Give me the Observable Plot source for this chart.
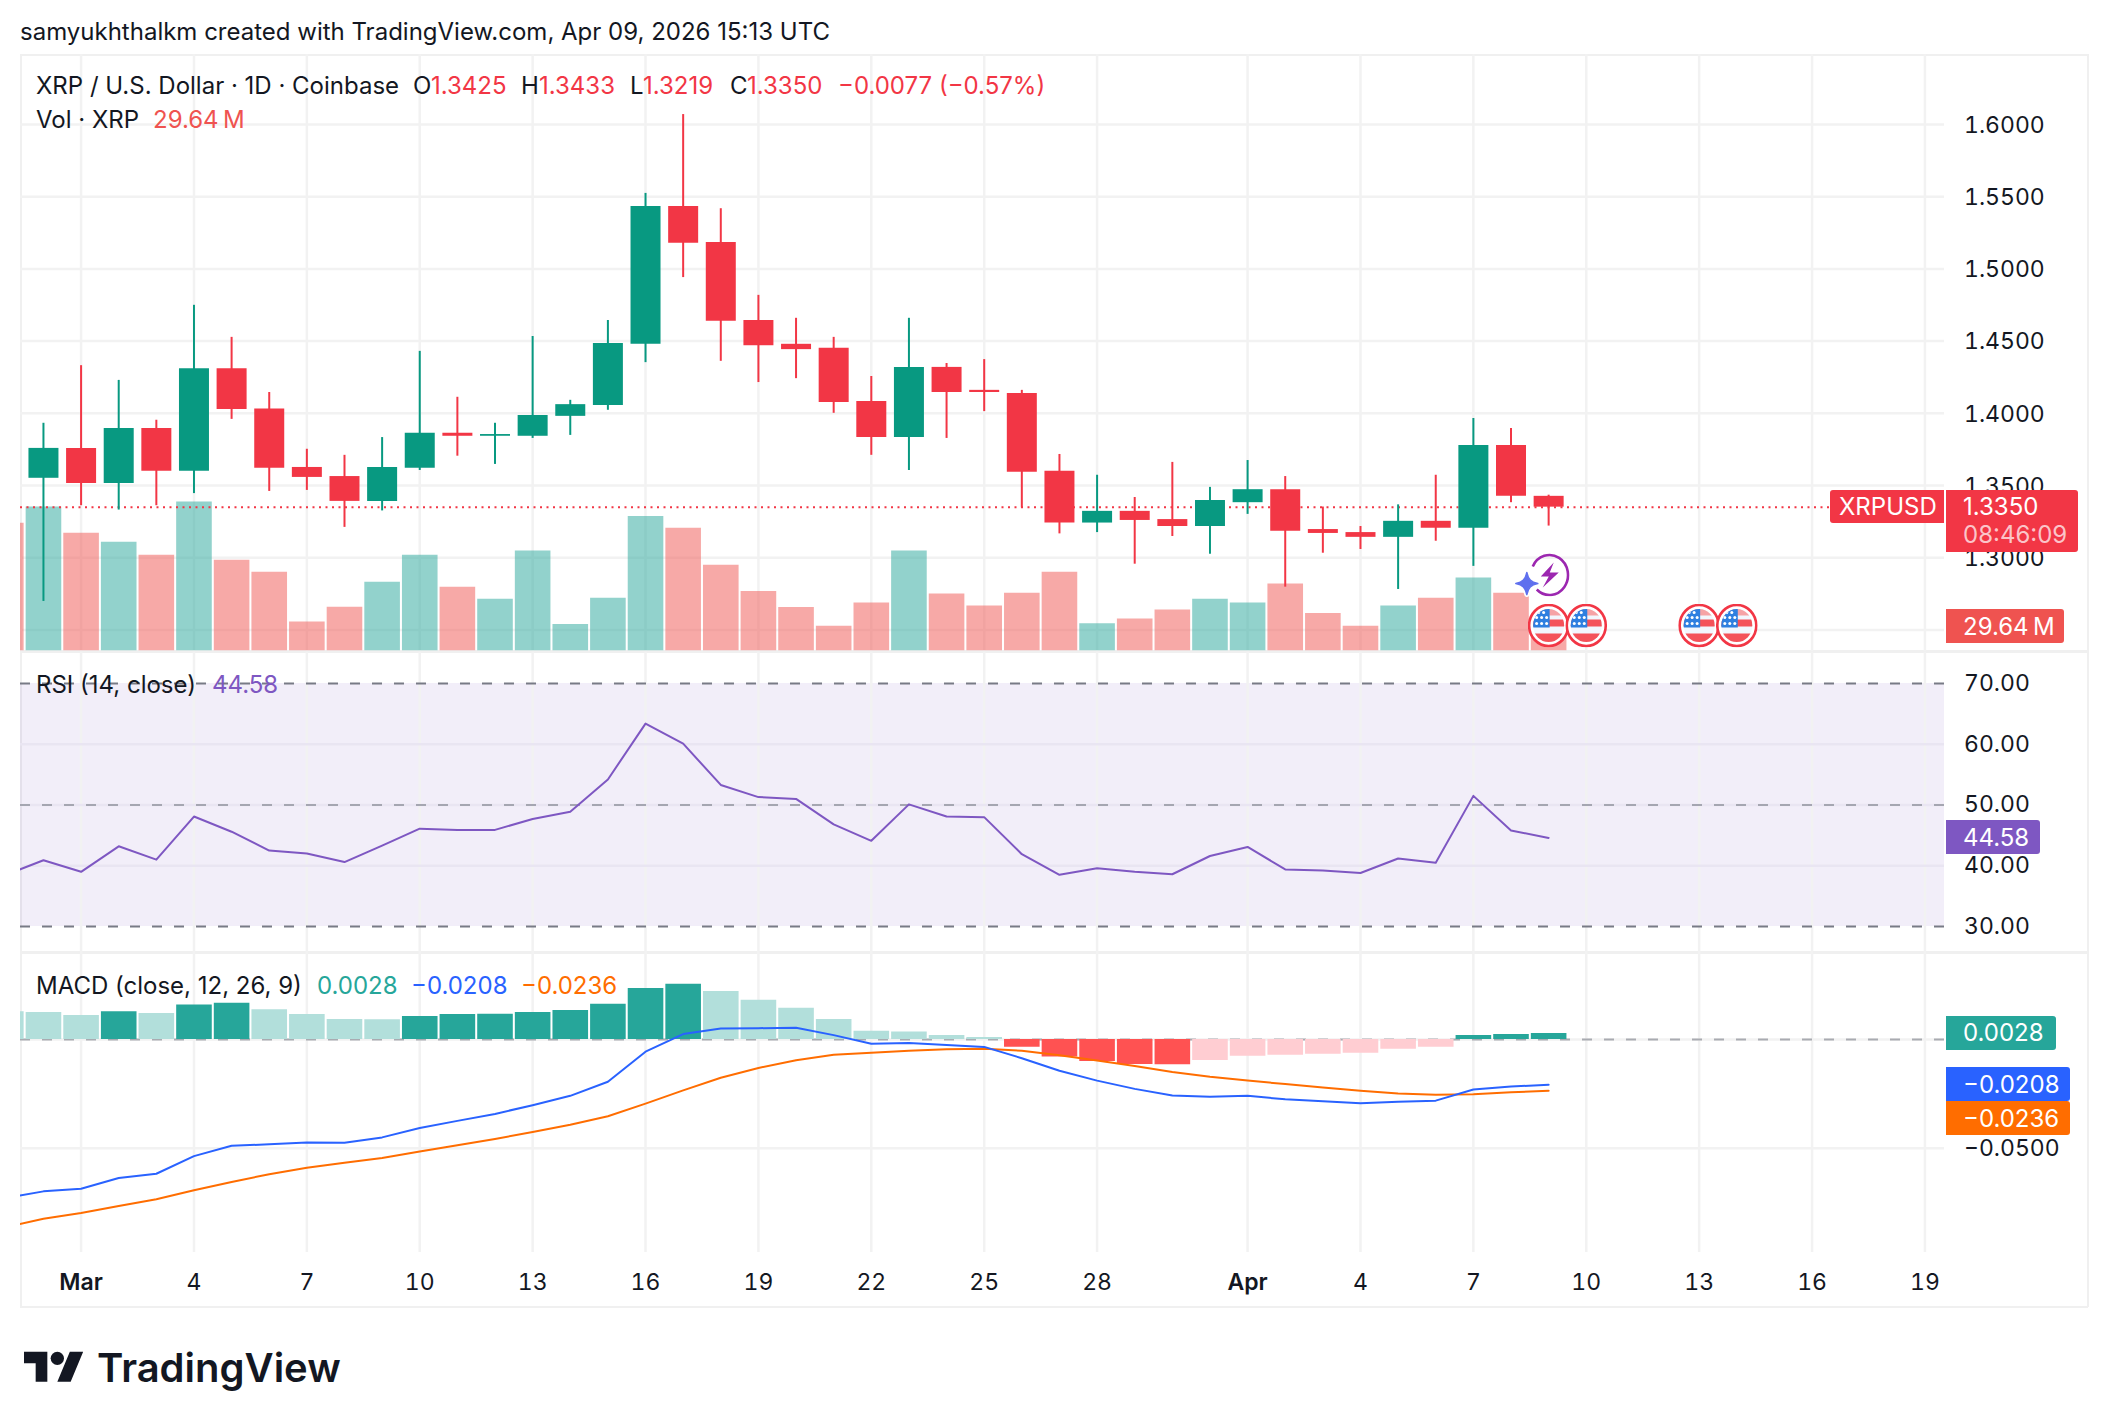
<!DOCTYPE html>
<html><head><meta charset="utf-8">
<script src="https://cdn.jsdelivr.net/npm/d3@7"></script>
<script src="https://cdn.jsdelivr.net/npm/@observablehq/plot@0.6"></script>
<style>
html,body{margin:0;background:#fff}
#root{position:relative;width:2108px;height:1428px;overflow:hidden;font-family:Inter,sans-serif;color:#131722}
#root svg{position:absolute;left:0}
.t{position:absolute;white-space:pre;line-height:1;transform:translateY(-50%);font-size:24px}
.b{position:absolute;left:1946px;color:#fff;font-size:24px;border-radius:0 3px 3px 0;box-sizing:border-box;display:flex;align-items:center;padding-left:17px;white-space:pre}
.line{position:absolute;background:#f0f0f0}
</style></head><body><div id="root"></div>
<script>
// day index: 0 = Mar 1 2026. Candles start Feb 28 (-1), volume / indicators start Feb 27 (-2).
const candleOpen=[1.3550,1.3757,1.3514,1.3895,1.3598,1.4309,1.4030,1.3625,1.3562,1.3390,1.3619,1.3862,1.3841,1.3841,1.3979,1.4054,1.4478,1.5432,1.5183,1.4643,1.4478,1.4450,1.4081,1.3832,1.4318,1.4159,1.4138,1.3598,1.3240,1.3321,1.3264,1.3216,1.3381,1.3471,1.3195,1.3174,1.3141,1.3252,1.3204,1.3777,1.3425];
const candleHigh=[1.3931,1.4330,1.4228,1.3952,1.4748,1.4526,1.4144,1.3751,1.3709,1.3832,1.4429,1.4111,1.3931,1.4532,1.4090,1.4643,1.5523,1.6069,1.5417,1.4817,1.4658,1.4526,1.4255,1.4658,1.4345,1.4372,1.4159,1.3715,1.3571,1.3417,1.3660,1.3487,1.3673,1.3562,1.3351,1.3216,1.3366,1.3571,1.3964,1.3895,1.3433];
const candleLow=[1.2697,1.3360,1.3330,1.3360,1.3444,1.3958,1.3459,1.3466,1.3210,1.3324,1.3604,1.3703,1.3646,1.3826,1.3847,1.4021,1.4351,1.4940,1.4360,1.4213,1.4240,1.4000,1.3709,1.3604,1.3826,1.4012,1.3345,1.3165,1.3174,1.2955,1.3147,1.3024,1.3300,1.2796,1.3031,1.3057,1.2780,1.3114,1.2940,1.3381,1.3219];
const candleClose=[1.3757,1.3514,1.3895,1.3598,1.4309,1.4027,1.3619,1.3556,1.3390,1.3625,1.3862,1.3841,1.3853,1.3985,1.4060,1.4483,1.5432,1.5177,1.4637,1.4468,1.4441,1.4075,1.3832,1.4318,1.4144,1.4144,1.3592,1.3240,1.3321,1.3258,1.3216,1.3396,1.3471,1.3183,1.3168,1.3141,1.3252,1.3204,1.3777,1.3425,1.3350];
const volumeM=[151,170,139,128.5,113,176,107,93,34,51.4,81,113,75,61,118,31,62,159,145,101,70,51,29,56.5,118,67,53,68,93,32,37.5,48,61,56.5,79,44,29,53,62,86,68,29.64];
const volumeUp=[0,1,0,1,0,1,0,0,0,0,1,1,0,1,1,1,1,1,0,0,0,0,0,0,1,0,0,0,0,1,0,0,1,1,0,0,0,1,0,1,0,0];
const rsiValues=[38.5,40.9,39.0,43.2,41.0,48.1,45.6,42.5,42.0,40.6,43.3,46.1,45.9,45.9,47.7,48.9,54.2,63.4,60.1,53.3,51.3,51.0,46.8,44.1,50.1,48.1,48.0,41.9,38.5,39.6,39.0,38.6,41.6,43.1,39.4,39.2,38.8,41.2,40.5,51.5,45.8,44.58];
const macdValues=[-0.0729,-0.0698,-0.0686,-0.0637,-0.0617,-0.0536,-0.0488,-0.0482,-0.0473,-0.0475,-0.0450,-0.0407,-0.0374,-0.0342,-0.0302,-0.0259,-0.0194,-0.0056,0.0025,0.0050,0.0052,0.0054,0.0020,-0.0020,-0.0016,-0.0025,-0.0034,-0.0086,-0.0144,-0.0189,-0.0227,-0.0257,-0.0263,-0.0259,-0.0275,-0.0284,-0.0293,-0.0286,-0.0281,-0.0230,-0.0216,-0.0208];
const signalValues=[-0.0862,-0.0824,-0.0797,-0.0765,-0.0734,-0.0693,-0.0655,-0.0619,-0.0590,-0.0567,-0.0545,-0.0515,-0.0486,-0.0457,-0.0425,-0.0392,-0.0353,-0.0295,-0.0234,-0.0176,-0.0131,-0.0095,-0.0070,-0.0061,-0.0052,-0.0045,-0.0043,-0.0052,-0.0072,-0.0097,-0.0122,-0.0149,-0.0171,-0.0189,-0.0205,-0.0221,-0.0236,-0.0248,-0.0254,-0.0252,-0.0243,-0.0236];
const histValues=[0.0128,0.0124,0.0110,0.0128,0.0119,0.0158,0.0167,0.0137,0.0115,0.0092,0.0091,0.0106,0.0115,0.0116,0.0124,0.0133,0.0162,0.0234,0.0254,0.0220,0.0180,0.0144,0.0092,0.0038,0.0034,0.0018,0.0009,-0.0036,-0.0081,-0.0101,-0.0115,-0.0116,-0.0097,-0.0077,-0.0072,-0.0068,-0.0063,-0.0045,-0.0036,0.0018,0.0023,0.0028];
const tickDays=[0,3,6,9,12,15,18,21,24,27,31,34,37,40,43,46,49];
const tickLabels=["Mar","4","7","10","13","16","19","22","25","28","Apr","4","7","10","13","16","19"];
const priceGrid=[1.25,1.30,1.35,1.40,1.45,1.50,1.55,1.60];
const priceTicks=[1.30,1.35,1.40,1.45,1.50,1.55,1.60];
const rsiTicks=[30,40,50,60,70];
const eventDays=[39,40,43,44];
const lastPrice=1.3350;

const GREEN="#089981",RED="#f23645",GRID="#f2f2f2";
const root=document.getElementById("root");
const xOpt={domain:[-1.61,49.52],axis:null};
const base={width:2108,marginLeft:20,marginRight:164,marginTop:0,marginBottom:0,
  style:{background:"transparent",fontFamily:"Inter,sans-serif",fontSize:"23px",color:"#131722",overflow:"visible"}};
const put=(svg,top)=>{svg.style.top=top+"px";root.appendChild(svg);return svg;};
const gridX=()=>Plot.gridX(tickDays,{x:d=>d,stroke:GRID,strokeOpacity:1,strokeWidth:2.5});
const txt=(s,left,cy,color,extra="")=>{const e=document.createElement("div");e.className="t";e.textContent=s;e.style.cssText=`left:${left}px;top:${cy}px;color:${color||"#131722"};${extra}`;root.appendChild(e);return e;};
const badge=(lines,top,h,w,bg,extra="")=>{const e=document.createElement("div");e.className="b";e.style.cssText=`top:${top}px;height:${h}px;width:${w}px;background:${bg};${extra}`;e.innerHTML=lines;root.appendChild(e);return e;};

const candles=candleOpen.map((o,i)=>({day:i-1,o,h:candleHigh[i],l:candleLow[i],c:candleClose[i],up:candleClose[i]>=o}));
const vols=volumeM.map((v,i)=>({day:i-2,v,up:volumeUp[i]}));
const series=rsiValues.map((r,i)=>({day:i-2,r,m:macdValues[i],s:signalValues[i],h:histValues[i],prev:i?histValues[i-1]:Infinity}));

const flagUri="data:image/svg+xml,"+encodeURIComponent(`<svg xmlns="http://www.w3.org/2000/svg" viewBox="0 0 42 44"><defs><clipPath id="c"><ellipse cx="21" cy="22" rx="15.5" ry="16.5"/></clipPath></defs><ellipse cx="21" cy="22" rx="19.5" ry="20.5" fill="#fff" stroke="#f23645" stroke-width="2.6"/><g clip-path="url(#c)"><rect width="42" height="44" fill="#f2f6fd"/><rect x="0" y="5" width="42" height="7" fill="#f6a3a6"/><rect x="0" y="16" width="42" height="7" fill="#f4525a"/><rect x="0" y="30" width="42" height="9" fill="#f4525a"/><rect x="0" y="4" width="22" height="20" fill="#2f7fe0"/><g fill="#fff"><circle cx="11" cy="9" r="1.5"/><circle cx="16" cy="9" r="1.5"/><circle cx="9" cy="14" r="1.5"/><circle cx="14" cy="14" r="1.5"/><circle cx="19" cy="14" r="1.5"/><circle cx="9" cy="20" r="1.5"/><circle cx="14" cy="20" r="1.5"/><circle cx="19" cy="20" r="1.5"/></g></g></svg>`);
const sparkUri="data:image/svg+xml,"+encodeURIComponent(`<svg xmlns="http://www.w3.org/2000/svg" viewBox="0 0 40 44"><path d="M3 14 A18.5 20 0 1 1 7 37" fill="none" stroke="#9c27b0" stroke-width="2.6"/><path d="M24 10 L11 24 L19 24 L13 35 L29 20 L20 20 Z" fill="#9c27b0"/></svg>`);
const starUri="data:image/svg+xml,"+encodeURIComponent(`<svg xmlns="http://www.w3.org/2000/svg" viewBox="0 0 28 28"><path d="M14 3 C15.5 10 18 12.5 25 14 C18 15.5 15.5 18 14 25 C12.5 18 10 15.5 3 14 C10 12.5 12.5 10 14 3 Z" fill="#fff" stroke="#fff" stroke-width="5" stroke-linejoin="round"/><path d="M14 3 C15.5 10 18 12.5 25 14 C18 15.5 15.5 18 14 25 C12.5 18 10 15.5 3 14 C10 12.5 12.5 10 14 3 Z" fill="#5f70ee" stroke="#5f70ee" stroke-width="1.5" stroke-linejoin="round"/></svg>`);

// main pane – price grid
const mainTop=54,mainH=597;
const priceY={domain:[1.23504,1.6485],axis:null};
put(Plot.plot({...base,height:mainH,x:xOpt,y:priceY,marks:[
  gridX(),
  Plot.gridY(priceGrid,{y:d=>d,stroke:GRID,strokeOpacity:1,strokeWidth:2.5})
]}),mainTop);
// volume
put(Plot.plot({...base,height:mainH,x:xOpt,y:{domain:[-1,706],axis:null},marks:[
  Plot.ruleX(vols,{x:"day",y1:0,y2:"v",stroke:d=>d.up?"rgba(38,166,154,.5)":"rgba(239,83,80,.5)",strokeWidth:35.6,clip:true})
]}),mainTop);
// candles
const mainPlot=put(Plot.plot({...base,height:mainH,x:xOpt,y:priceY,marks:[
  Plot.ruleY([lastPrice],{stroke:RED,strokeWidth:2,strokeDasharray:"2 4.5"}),
  Plot.ruleX(candles,{x:"day",y1:"l",y2:"h",stroke:d=>d.up?GREEN:RED,strokeWidth:2}),
  Plot.ruleX(candles,{x:"day",y1:"o",y2:"c",stroke:d=>d.up?GREEN:RED,strokeWidth:30}),
  Plot.image([39.03],{x:d=>d,frameAnchor:"bottom",dy:-77,width:40,height:44,src:()=>sparkUri}),
  Plot.image([38.42],{x:d=>d,frameAnchor:"bottom",dy:-68,width:28,height:28,src:()=>starUri}),
  Plot.image(eventDays,{x:d=>d,frameAnchor:"bottom",dy:-26,width:42,height:44,src:()=>flagUri}),
  Plot.axisY(priceTicks,{anchor:"right",tickSize:0,tickPadding:19.5,dy:1,label:null,tickFormat:d=>d.toFixed(4)})
]}),mainTop);

// RSI pane
const rsiTop=652,rsiH=300;
const rsiPlot=put(Plot.plot({...base,height:rsiH,x:xOpt,y:{domain:[25.72,75.1],axis:null},marks:[
  Plot.rectY([0],{x1:xOpt.domain[0],x2:xOpt.domain[1],y1:30,y2:70,fill:"#7e57c2",fillOpacity:0.1}),
  gridX(),
  Plot.gridY([40,50,60],{y:d=>d,stroke:"#e9e5f2",strokeOpacity:1,strokeWidth:2.5}),
  Plot.ruleY([30,70],{stroke:"#787b86",strokeWidth:2,strokeDasharray:"10 12"}),
  Plot.ruleY([50],{stroke:"#787b86",strokeOpacity:.6,strokeWidth:2,strokeDasharray:"10 12"}),
  Plot.line(series,{x:"day",y:"r",stroke:"#7e57c2",strokeWidth:2,clip:true}),
  Plot.axisY(rsiTicks,{anchor:"right",tickSize:0,tickPadding:19.5,label:null,tickFormat:d=>d.toFixed(2)})
]}),rsiTop);

// MACD pane + time axis
const macdTop=952,macdH=355;
const macdPlot=put(Plot.plot({...base,height:macdH,marginBottom:55,x:xOpt,y:{domain:[-0.0979,0.03998],axis:null},marks:[
  gridX(),
  Plot.gridY([0,-0.05],{y:d=>d,stroke:GRID,strokeOpacity:1,strokeWidth:2.5}),
  Plot.ruleY([0],{stroke:"#787b86",strokeOpacity:.6,strokeWidth:2,strokeDasharray:"10 12"}),
  Plot.ruleX(series,{x:"day",y1:0,y2:"h",strokeWidth:35.6,clip:true,
    stroke:d=>d.h>=0?(d.h>=d.prev?"#26a69a":"#b2dfdb"):(d.h<d.prev?"#ff5252":"#ffcdd2")}),
  Plot.line(series,{x:"day",y:"s",stroke:"#ff6d00",strokeWidth:2,clip:true}),
  Plot.line(series,{x:"day",y:"m",stroke:"#2962ff",strokeWidth:2,clip:true}),
  Plot.axisY([-0.05],{anchor:"right",tickSize:0,tickPadding:19.5,dy:.5,label:null,tickFormat:d=>"\u2212"+Math.abs(d).toFixed(4)}),
  Plot.axisX(tickDays.filter(d=>tickLabels[tickDays.indexOf(d)].length<3),{anchor:"bottom",tickSize:0,tickPadding:21,label:null,tickFormat:d=>tickLabels[tickDays.indexOf(d)]}),
  Plot.axisX(tickDays.filter(d=>tickLabels[tickDays.indexOf(d)].length==3),{anchor:"bottom",tickSize:0,tickPadding:21,label:null,fontWeight:600,tickFormat:d=>tickLabels[tickDays.indexOf(d)]})
]}),macdTop);

// frame
for(const [l,t,w,h] of [[20,54,2068,2],[20,54,2,1253],[2087,54,2,1253],[20,1306,2068,2],[20,650,2068,3],[20,951,2068,3]]){
  const e=document.createElement("div");e.className="line";e.style.cssText=`left:${l}px;top:${t}px;width:${w}px;height:${h}px`;root.insertBefore(e,root.firstChild);
}

// header and legends
txt("samyukhthalkm created with TradingView.com, Apr 09, 2026 15:13 UTC",20,32);
txt("XRP / U.S. Dollar \u00b7 1D \u00b7 Coinbase",36,86);
txt("O",413,86);txt("1.3425",431,86,RED);
txt("H",521,86);txt("1.3433",539,86,RED);
txt("L",630,86);txt("1.3219",643,86,RED);
txt("C",730,86);txt("1.3350",747,86,RED);
txt("\u22120.0077 (\u22120.57%)",838,86,RED);
txt("Vol \u00b7 XRP",36,120);txt("29.64\u2009M",153,120,"#ef5350");
txt("RSI (14, close)",36,684.5);txt("44.58",212,684.5,"#7e57c2");
txt("MACD (close, 12, 26, 9)",36,985.7);
txt("0.0028",317,985.7,"#26a69a");
txt("\u22120.0208",411,985.7,"#2962ff");
txt("\u22120.0236",521,985.7,"#ff6d00");

// last value badges follow the scales
const py=mainTop+mainPlot.scale("y").apply(lastPrice);
badge("XRPUSD",py-16.5,33,114,RED,"left:1830px;border-radius:3px 0 0 3px;padding-left:9px");
badge('<div style="line-height:28px"><div>1.3350</div><div style="color:#fbc4c9">08:46:09</div></div>',py-16.5,62,132,RED);
badge("29.64\u2009M",609,34,118,"#ef5350");
const rb=rsiTop+rsiPlot.scale("y").apply(44.58);
badge("44.58",rb-17,34,94,"#7e57c2");
const m=v=>macdTop+macdPlot.scale("y").apply(v);
badge("0.0028",m(0.0028)-17,34,110,"#26a69a");
badge("\u22120.0208",m(-0.0208)-17,34,124,"#2962ff");
badge("\u22120.0236",m(-0.0208)+17,34,124,"#ff6d00");

// footer logo
const logo=document.createElement("div");
logo.style.cssText="position:absolute;left:24px;top:1345.3px;width:330px;height:47px";
logo.innerHTML=`<svg style="left:0;top:0" width="60" height="46.7" viewBox="0 0 36 28"><path fill="#131722" d="M14 22H7V11H0V4h14v18zM28 22h-8l7.5-18h8L28 22z"/><circle fill="#131722" cx="20" cy="8" r="4"/></svg><span style="position:absolute;left:73px;top:-1px;line-height:47px;font-size:40px;font-weight:600;color:#131722">TradingView</span>`;
root.appendChild(logo);
</script></body></html>
